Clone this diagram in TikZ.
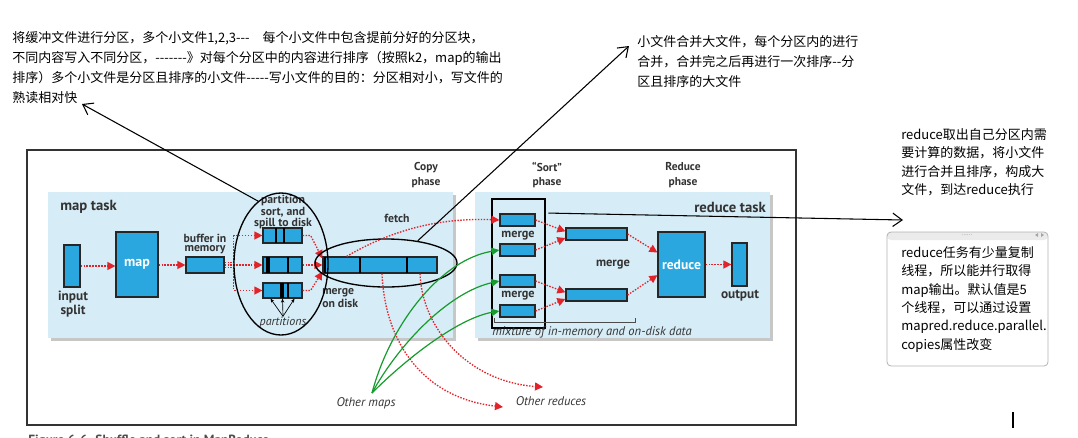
\documentclass[tikz,border=0pt]{standalone}
\usepackage{fontspec}
\newfontfamily\cjk{Noto Sans CJK SC}[Ligatures=TeXOff]
\newfontfamily\figsans{PT Sans}
\usetikzlibrary{arrows.meta,shapes.geometric}
\definecolor{panelblue}{HTML}{D6ECF6}
\definecolor{boxblue}{HTML}{2AA7DF}
\definecolor{flowred}{HTML}{E2232A}
\definecolor{feedgreen}{HTML}{169B2C}
\tikzset{
  sz/.style 2 args={minimum width=#1*0.75pt, minimum height=#2*0.75pt},
  blk/.style={draw=black!85, fill=boxblue, line width=0.9pt, inner sep=0pt},
  flow/.style={flowred, dash pattern=on 1.1pt off 1.1pt, line width=1pt, -{Triangle[length=6pt,width=6pt]}},
  feed/.style={feedgreen, line width=0.9pt, -{Triangle[length=6pt,width=5.5pt]}},
  note/.style={black, line width=0.8pt, -{Straight Barb[length=7pt,width=10pt]}},
  lbl/.style={font=\figsans\bfseries\fontsize{8.8}{7.4}\selectfont, align=center, text=black!80, inner sep=0pt},
  ital/.style={font=\figsans\itshape\fontsize{9.4}{10}\selectfont, text=black!80, inner sep=0pt},
  cn/.style={font=\cjk\fontsize{9.75}{15}\selectfont, align=left, anchor=north west, inner sep=0pt},
  cnsmall/.style={cn, font=\cjk\fontsize{9.75}{13.8}\selectfont},
}
\begin{document}
\begin{tikzpicture}[x=0.75pt, y=-0.75pt]
\useasboundingbox (0,0) rectangle (1078,437);

\draw[black!80, line width=0.9pt] (27,150) rectangle (796,425);
\fill[black!22] (51,195) rectangle (456,341);
\fill[panelblue] (48,192) rectangle (453,338);
\fill[black!22] (478,195) rectangle (773,341);
\fill[panelblue] (475,192) rectangle (770,338);

% phase titles
\node[lbl, anchor=west, font=\figsans\bfseries\fontsize{11}{12}\selectfont] (maptask) at (60,207) {map task};
\node[lbl, anchor=east, font=\figsans\bfseries\fontsize{11}{12}\selectfont] (redtask) at (766,207) {reduce task};
\node[lbl, font=\figsans\bfseries\fontsize{8.6}{11}\selectfont] (copyph) at (426,175) {Copy\\phase};
\node[lbl, font=\figsans\bfseries\fontsize{8.6}{11}\selectfont] (sortph) at (547,175) {“Sort”\\phase};
\node[lbl, font=\figsans\bfseries\fontsize{8.6}{11}\selectfont] (reduceph) at (683,175) {Reduce\\phase};

% map side
\node[blk, sz={16}{42}] (insplit) at (72,266) {};
\node[blk, sz={42}{65}, text=white, font=\figsans\bfseries\fontsize{10.5}{11}\selectfont] (mapbox) at (137,264.5) {map};
\node[blk, sz={38}{16}] (buffer) at (205,265) {};
\node[blk, sz={39}{15}] (partA) at (282.5,235.5) {};
\node[blk, sz={39}{16}] (partB) at (282.5,265) {};
\node[blk, sz={39}{15}] (partC) at (282.5,290.5) {};
\node[blk, sz={114}{16}] (mdisk) at (380,265) {};
\foreach \xa/\ya/\yb in {276/228/243, 284/228/243, 267/257/273, 269/257/273, 288/257/273, 281/283/298, 283/283/298, 288/283/298, 325/257/273, 360/257/273, 407/257/273}
  \draw[line width=0.9pt] (\xa,\ya) -- (\xa,\yb);

\node[lbl, font=\figsans\bfseries\fontsize{10}{9}\selectfont] (splitl) at (73,304) {input\\split};
\node[lbl] (bufl) at (205,244) {buffer in\\memory};
\node[lbl] (spilll) at (283,212) {partition\\sort, and\\spill to disk};
\node[lbl, anchor=west, align=left] (mdiskl) at (322,298) {merge\\on disk};
\node[lbl] (fetchl) at (397,218) {fetch};
\node[ital, font=\figsans\itshape\fontsize{9}{9}\selectfont] (partl) at (283,322) {partitions};
\foreach \dx in {-9,0,9}
  \draw[line width=0.5pt, -{Stealth[length=3pt,width=2.5pt]}] (partl.north) -- ([xshift=\dx pt]partC.south);

\draw[flow] (insplit.east) -- (insplit.east -| mapbox.west);
\draw[flow] (mapbox.east |- buffer) -- (buffer.west);
\draw[flow] ([yshift=2pt]buffer.east) -- ++(9,0) |- (partA.west);
\draw[flow] (buffer.east) -- (partB.west);
\draw[flow] ([yshift=-2pt]buffer.east) -- ++(9,0) |- (partC.west);
\draw[flow] (partA.east) -- ++(8,0) -- ([yshift=5pt]mdisk.west);
\draw[flow] (partB.east) -- (mdisk.west);
\draw[flow] (partC.east) -- ++(8,0) -- ([yshift=-5pt]mdisk.west);

\node[draw, ellipse, line width=1pt, sz={94}{142}] (spill) at (281,264) {};
\node[draw, ellipse, line width=1pt, sz={142}{48}] (mring) at (386,263) {};

% reduce side
\node[draw, line width=0.9pt, sz={53}{129}] (sortbox) at (518.5,263.5) {};
\node[blk, sz={35}{12}] (sr1) at (517.5,220) {};
\node[blk, sz={35}{12}] (sr2) at (517.5,250) {};
\node[blk, sz={35}{12}] (sr3) at (517.5,281) {};
\node[blk, sz={35}{12}] (sr4) at (517.5,311) {};
\node[blk, sz={61}{12}] (mtop) at (596.5,234) {};
\node[blk, sz={61}{12}] (mbot) at (596.5,295) {};
\node[blk, sz={47}{65}, text=white, font=\figsans\bfseries\fontsize{10.2}{11}\selectfont] (redbox) at (681.5,264.5) {reduce};
\node[blk, sz={15}{43}] (outbox) at (739.5,264.5) {};

\node[lbl, font=\figsans\bfseries\fontsize{9.2}{9}\selectfont] (mergeA) at (518,236) {merge};
\node[lbl, font=\figsans\bfseries\fontsize{9.2}{9}\selectfont] (mergeB) at (518,296) {merge};
\node[lbl, font=\figsans\bfseries\fontsize{9.4}{9}\selectfont] (mergeC) at (613,265) {merge};
\node[lbl, font=\figsans\bfseries\fontsize{10}{10}\selectfont] (outl) at (740,296) {output};
\draw[black!70, line width=0.6pt] (494,318) -- (494,322) -- (635,322) -- (635,318);
\node[ital] (mixl) at (592,332) {mixture of in-memory and on-disk data};

\draw[flow] (sr1.east) -- ([yshift=2pt]mtop.west);
\draw[flow] (sr2.east) -- ([yshift=-3pt]mtop.west);
\draw[flow] (sr3.east) -- ([yshift=2pt]mbot.west);
\draw[flow] (sr4.east) -- ([yshift=-3pt]mbot.west);
\draw[flow] (mtop.east) -- ([yshift=9pt]redbox.west);
\draw[flow] (mbot.east) -- ([yshift=-8pt]redbox.west);
\draw[flow] (redbox.east) -- (outbox.west);

% shuffle
\node[ital] (omaps) at (366,403) {Other maps};
\node[ital] (oreds) at (551,401) {Other reduces};
\coordinate (mapsrc) at (372,393);
\coordinate (oredA) at (503,407);
\coordinate (oredB) at (543,387);
\draw[flow] ([xshift=-25pt]mdisk.north) .. controls (400,225) and (450,218) .. (sr1.west);
\draw[flow] ([xshift=1.5pt]mdisk.south) .. controls (385,345) and (425,398) .. (oredA);
\draw[flow] ([xshift=30pt]mdisk.south) .. controls (422,330) and (470,382) .. (oredB);
\draw[feed] (mapsrc) .. controls (390,325) and (440,260) .. (sr2.west);
\draw[feed] (mapsrc) .. controls (400,342) and (450,292) .. (sr3.west);
\draw[feed] (mapsrc) .. controls (410,355) and (460,318) .. (sr4.west);

% notes
\node[cn] (lefttext) at (12,31) {将缓冲文件进行分区，多个小文件1,2,3---\hspace{1em}每个小文件中包含提前分好的分区块，\\不同内容写入不同分区，-------》对每个分区中的内容进行排序（按照k2，map的输出\\排序）多个小文件是分区且排序的小文件-----写小文件的目的：分区相对小，写文件的\\熟读相对快};
\node[cn] (righttext) at (637,35) {小文件合并大文件，每个分区内的进行\\合并，合并完之后再进行一次排序--分\\区且排序的大文件};
\node[cnsmall] (fetchtext) at (901,128) {reduce取出自己分区内需\\要计算的数据，将小文件\\进行合并且排序，构成大\\文件，到达reduce执行};

\node[draw=black!30, rounded corners=3pt, line width=0.6pt, sz={161}{134},
  path picture={\fill[black!8] (path picture bounding box.north west) rectangle ([yshift=-6pt]path picture bounding box.north east);}] (tipbox) at (967.5,299) {};
\node[font=\figsans\fontsize{5}{5}\selectfont, text=black!40, inner sep=0pt] (tipdots) at (967,235) {......};
\fill[black!35] (1038,233) -- (1035,235) -- (1038,237) -- cycle (1041,233) -- (1044,235) -- (1041,237) -- cycle;
\node[cnsmall] (tiptext) at (901,246) {reduce任务有少量复制\\线程，所以能并行取得\\map输出。默认值是5\\个线程，可以通过设置\\mapred.reduce.parallel.\\copies属性改变};

\coordinate (tipA) at (82,104);
\coordinate (tipB) at (629,46);
\coordinate (tipC) at (903,220);
\draw[note] (spill.110) -- (tipA);
\draw[note] (mring.35) -- (tipB);
\draw[note] ([xshift=2pt,yshift=-11pt]sortbox.north east) -- (tipC);

\draw[line width=0.8pt] (1013,412) -- (1013,428);
\node[anchor=north west, inner sep=0pt, font=\figsans\bfseries\fontsize{10}{12}\selectfont, text=black!70] (caption) at (28,434.5) {Figure 6-6. Shuffle and sort in MapReduce};
\end{tikzpicture}
\end{document}
